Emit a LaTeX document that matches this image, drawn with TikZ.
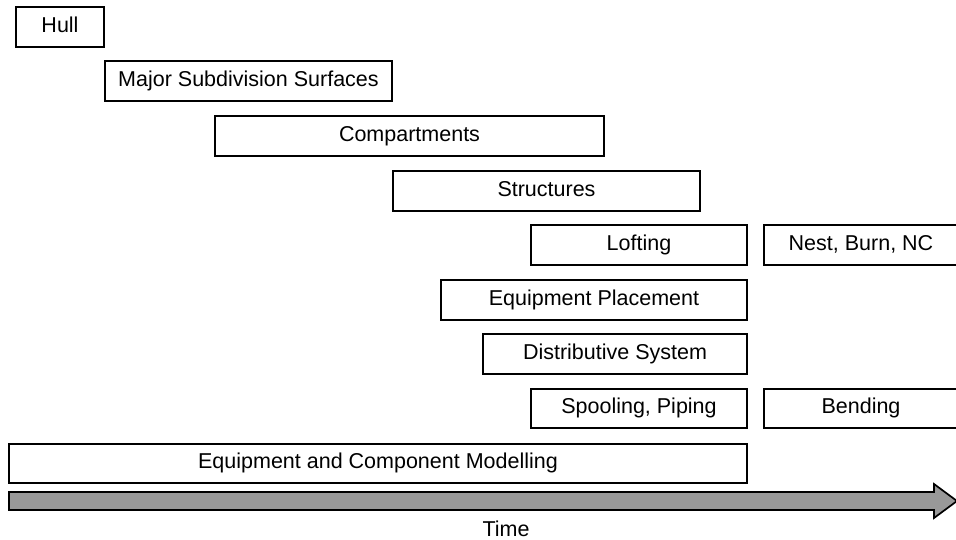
\documentclass[tikz,border=0pt]{standalone}
\usepackage{fontspec}
\setmainfont{Liberation Sans}
\begin{document}
\begin{tikzpicture}[x=1pt,y=-1pt,
  phase/.style={draw=black, line width=1.7pt, fill=white, inner sep=0pt,
    minimum height=40pt, text height=15.4pt, text depth=4.6pt,
    font=\fontsize{21.5}{25}\selectfont},
  timearrow/.style={draw=black, line width=1.7pt, fill=black!40, line join=miter}]
\useasboundingbox (0,0) rectangle (956,540);

% planning phases, laid out along the time axis
\node[phase, minimum width=88pt]  (hull)   at (60,27)     {Hull};
\node[phase, minimum width=287pt] (mss)    at (248.5,81)  {Major Subdivision Surfaces};
\node[phase, minimum width=389pt] (comp)   at (409.5,136) {Compartments};
\node[phase, minimum width=307pt] (struct) at (546.5,191) {Structures};
\node[phase, minimum width=216pt] (loft)   at (639,245)   {Lofting};
\node[phase, minimum width=194pt] (nest)   at (861,245)   {Nest, Burn, NC};
\node[phase, minimum width=306pt] (eqp)    at (594,300)   {Equipment Placement};
\node[phase, minimum width=264pt] (dist)   at (615,354)   {Distributive System};
\node[phase, minimum width=216pt, minimum height=39pt] (spool) at (639,408.5) {Spooling, Piping};
\node[phase, minimum width=194pt, minimum height=39pt] (bend)  at (861,408.5) {Bending};
\node[phase, minimum width=738pt, minimum height=39pt] (ecm)   at (378,463.5) {Equipment and Component Modelling};

% time axis
\draw[timearrow] (9,492) -- (934,492) -- (934,484) -- (957,501)
  -- (934,518) -- (934,510) -- (9,510) -- cycle;
\node[font=\fontsize{21.5}{25}\selectfont, inner sep=0pt] (time) at (506,528.5) {Time};
\end{tikzpicture}
\end{document}
